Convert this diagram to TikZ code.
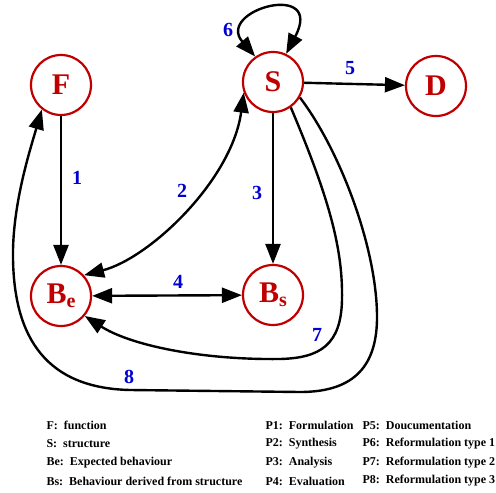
\documentclass[tikz,border=0pt]{standalone}
\usepackage{fontspec}
\setmainfont{Liberation Serif}
\usetikzlibrary{arrows.meta}
\definecolor{nodered}{RGB}{192,0,0}
\definecolor{numblue}{RGB}{0,0,210}

\begin{document}
\begin{tikzpicture}[x=1pt,y=-1pt,
    state/.style={circle,draw=nodered,line width=2.2pt,minimum size=60pt,inner sep=0pt,
        text=nodered,font=\bfseries\fontsize{30}{30}\selectfont},
    flow/.style={line width=2.4pt,-{Triangle[length=20pt,width=15pt]}},
    both/.style={line width=2.4pt,{Triangle[length=20pt,width=15pt]}-{Triangle[length=20pt,width=15pt]}},
    num/.style={text=numblue,font=\bfseries\fontsize{20}{20}\selectfont},
    legend/.style={anchor=west,font=\bfseries\fontsize{12}{14}\selectfont}]
    \useasboundingbox (0,0) rectangle (496,493);

    % States
    \node[state] (F) at (61,85) {F};
    \node[state] (S) at (273,82) {S};
    \node[state] (D) at (436,86) {D};
    \node[state] (Be) at (61,296) {B\raisebox{-0.3ex}{\fontsize{20}{20}\selectfont e}};
    \node[state] (Bs) at (273,295) {B\raisebox{-0.3ex}{\fontsize{20}{20}\selectfont s}};

    % Straight processes
    \draw[flow] (F) -- (Be);
    \draw[flow] (S) -- (Bs);
    \draw[flow] (S) -- (D);
    \draw[both] (Be) -- (Bs);

    % Curved processes
    \draw[both] (Be.42) .. controls (150,258) and (232,180) .. (S.200);
    \draw[both] (S.125) .. controls (215,10) and (325,-20) .. (S.65);
    \draw[flow] (S.-55) .. controls (330,200) and (343,250) .. (342,300)
        .. controls (341,345) and (320,358) .. (280,359)
        .. controls (200,360) and (130,345) .. (Be.-40);
    \draw[flow] (S.-30) .. controls (340,150) and (378,250) .. (377,320)
        .. controls (376,370) and (350,392) .. (300,392)
        -- (130,390)
        .. controls (40,388) and (12,330) .. (13,250)
        .. controls (14,200) and (30,150) .. (F.-128);

    % Process numbers
    \node[num] (l1) at (77,178) {1};
    \node[num] (l2) at (182,191) {2};
    \node[num] (l3) at (257,193) {3};
    \node[num] (l4) at (178,282) {4};
    \node[num] (l5) at (350,68) {5};
    \node[num] (l6) at (228,30) {6};
    \node[num] (l7) at (317,335) {7};
    \node[num] (l8) at (129,377) {8};

    % Legend
    \foreach \entry [count=\i] in {F:\ \ function, S:\ \ structure,
            Be:\ \ Expected behaviour, Bs:\ \ Behaviour derived from structure}
        \node[legend] (key\i) at (43,{407+18.5*\i}) {\entry};
    \foreach \entry [count=\i] in {P1:\ \ Formulation, P2:\ \ Synthesis,
            P3:\ \ Analysis, P4:\ \ Evaluation}
        \node[legend] (proc\i) at (262,{407+18.5*\i}) {\entry};
    \foreach \entry [count=\i] in {P5:\ \ Doucumentation, P6:\ \ Reformulation type 1,
            P7:\ \ Reformulation type 2, P8:\ \ Reformulation type 3}
        \node[legend] (reform\i) at (359,{407+18.5*\i}) {\entry};
\end{tikzpicture}
\end{document}
